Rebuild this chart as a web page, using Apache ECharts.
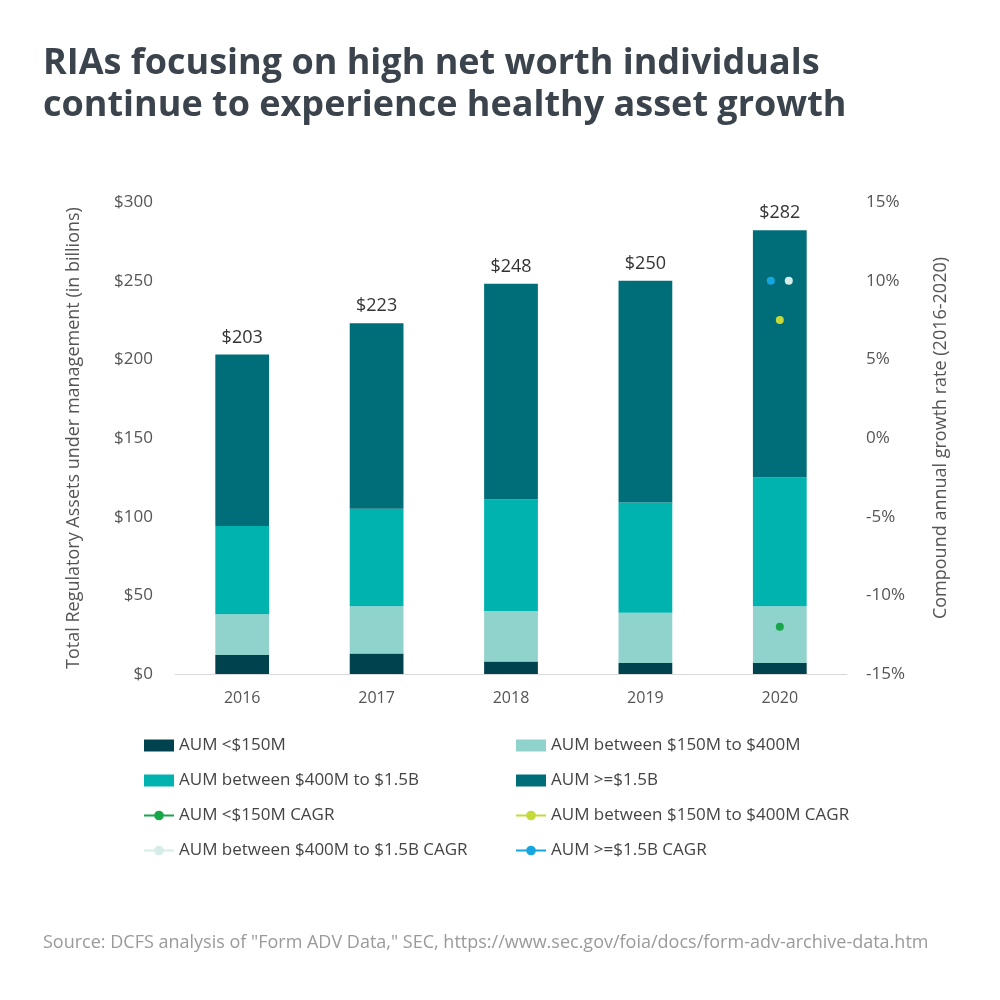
<!DOCTYPE html>
<html>
<head>
<meta charset="utf-8">
<script src="https://cdn.jsdelivr.net/npm/echarts@6/dist/echarts.min.js"></script>
<style>
html,body{margin:0;padding:0;background:#fff;}
#chart{width:1000px;height:1000px;}
</style>
</head>
<body>
<div id="chart"></div>
<script>
const years = ['2016','2017','2018','2019','2020'];
const aumUnder150 = [12, 13, 8, 7, 7];
const aum150to400 = [26, 30, 32, 32, 36];
const aum400to1500 = [56, 62, 71, 70, 82];
const aumOver1500 = [109, 118, 137, 141, 157];
const totals = [203, 223, 248, 250, 282];
const cagrUnder150 = [null, null, null, null, -12];
const cagr150to400 = [null, null, null, null, 7.5];
const cagr400to1500 = [null, null, null, null, 10];
const cagrOver1500 = [null, null, null, null, 10];
const leftTicks = {min: 0, max: 300, interval: 50};
const rightTicks = {min: -15, max: 15, interval: 5};

const names = ['AUM <$150M', 'AUM between $150M to $400M', 'AUM between $400M to $1.5B', 'AUM >=$1.5B',
  'AUM <$150M CAGR', 'AUM between $150M to $400M CAGR', 'AUM between $400M to $1.5B CAGR', 'AUM >=$1.5B CAGR'];
const colors = ['#00434f', '#90d2cc', '#00b3ae', '#006e78', '#17a648', '#c5d93a', '#d6ece8', '#15a6df'];
const font = 'Open Sans';

const chart = echarts.init(document.getElementById('chart'), null, {renderer: 'canvas'});

function barSeries(i, data, extra) {
  return Object.assign({
    name: names[i], type: 'bar', stack: 'aum', data: data, barWidth: '40%',
    itemStyle: {color: colors[i]}
  }, extra || {});
}
function dotSeries(i, data, offset) {
  return {
    name: names[i], type: 'line', yAxisIndex: 1, data: data,
    symbol: 'circle', symbolSize: 8, showSymbol: true, symbolOffset: [offset, 0],
    lineStyle: {color: colors[i], width: 2}, itemStyle: {color: colors[i]}, z: 5
  };
}

const legendText = {fontFamily: font, fontSize: 17, color: '#444'};
chart.setOption({
  animation: false,
  textStyle: {fontFamily: font},
  title: [{
    text: 'RIAs focusing on high net worth individuals\ncontinue to experience healthy asset growth',
    left: 38, top: 38,
    textStyle: {fontFamily: font, fontSize: 36, fontWeight: 'bold', color: '#3b434c', lineHeight: 42}
  }, {
    text: 'Source: DCFS analysis of "Form ADV Data," SEC, https://www.sec.gov/foia/docs/form-adv-archive-data.htm',
    left: 38, top: 929,
    textStyle: {fontFamily: font, fontSize: 18, fontWeight: 'normal', color: '#9a9a9a'}
  }],
  grid: {left: 175, right: 153, top: 202, bottom: 326},
  legend: [{
    orient: 'vertical', left: 138, top: 732, itemGap: 18, itemWidth: 30, itemHeight: 12,
    textStyle: legendText,
    data: [{name: names[0], icon: 'rect'}, {name: names[2], icon: 'rect'}, names[4], names[6]]
  }, {
    orient: 'vertical', left: 510, top: 732, itemGap: 18, itemWidth: 30, itemHeight: 12,
    textStyle: legendText,
    data: [{name: names[1], icon: 'rect'}, {name: names[3], icon: 'rect'}, names[5], names[7]]
  }],
  xAxis: {
    type: 'category', data: years,
    axisLine: {lineStyle: {color: '#d9d9d9'}},
    axisTick: {show: false},
    axisLabel: {fontFamily: font, fontSize: 16, color: '#555', margin: 16}
  },
  yAxis: [{
    type: 'value', min: leftTicks.min, max: leftTicks.max, interval: leftTicks.interval,
    name: 'Total Regulatory Assets under management (in billions)',
    nameLocation: 'middle', nameGap: 92,
    nameTextStyle: {fontFamily: font, fontSize: 18, color: '#555'},
    splitLine: {show: false}, axisLine: {show: false}, axisTick: {show: false},
    axisLabel: {fontFamily: font, fontSize: 17, color: '#555', margin: 22, formatter: function (v) { return '$' + v; }}
  }, {
    type: 'value', min: rightTicks.min, max: rightTicks.max, interval: rightTicks.interval,
    name: 'Compound annual growth rate (2016-2020)',
    nameLocation: 'middle', nameGap: 85, nameRotate: 90,
    nameTextStyle: {fontFamily: font, fontSize: 18, color: '#555'},
    splitLine: {show: false}, axisLine: {show: false}, axisTick: {show: false},
    axisLabel: {fontFamily: font, fontSize: 17, color: '#555', margin: 19, formatter: '{value}%'}
  }],
  series: [
    barSeries(0, aumUnder150),
    barSeries(1, aum150to400),
    barSeries(2, aum400to1500),
    barSeries(3, aumOver1500, {
      label: {show: true, position: 'top', distance: 8, fontFamily: font, fontSize: 18, color: '#333',
        formatter: function (p) { return '$' + totals[p.dataIndex]; }}
    }),
    dotSeries(4, cagrUnder150, 0),
    dotSeries(5, cagr150to400, 0),
    dotSeries(6, cagr400to1500, 9),
    dotSeries(7, cagrOver1500, -9)
  ]
});
</script>
</body>
</html>
